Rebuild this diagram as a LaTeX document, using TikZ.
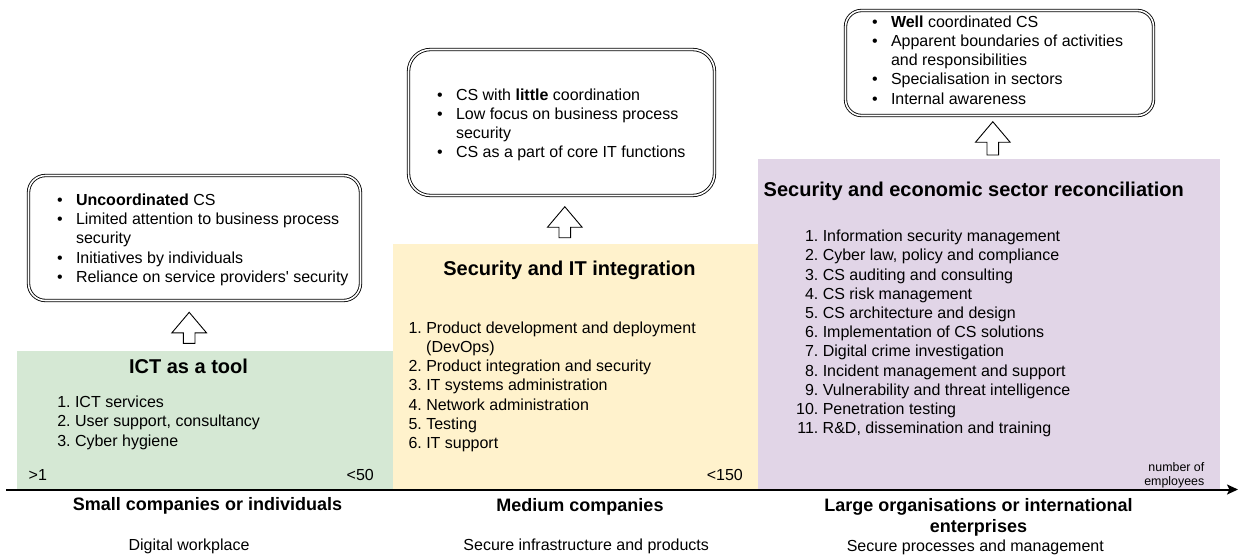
\documentclass[tikz,border=0pt]{standalone}
\usepackage{fontspec}
\setmainfont{Liberation Sans}
\newfontfamily\straightquotefont{Liberation Sans}
\usetikzlibrary{arrows.meta}
\definecolor{smallfill}{HTML}{D5E8D4}
\definecolor{medfill}{HTML}{FFF2CC}
\definecolor{largefill}{HTML}{E1D5E7}
\newcommand{\blockup}[3]{%
  \draw[line width=0.9pt, fill=white, line join=miter]
    (#1,#2) -- (#1+17.3,#2+20.5) -- (#1+5.8,#2+20.5) -- (#1+5.8,#3)
    -- (#1-5.8,#3) -- (#1-5.8,#2+20.5) -- (#1-17.3,#2+20.5) -- cycle;}
\tikzset{
  band/.style={draw=none, inner sep=0pt, outer sep=0pt, anchor=north west},
  infobox/.style={draw, line width=0.85pt, double=white, double distance=1.6pt,
    inner sep=0pt, outer sep=0pt, anchor=north west},
  bodytext/.style={inner sep=0pt, anchor=base west, font=\fontsize{16}{19.2}\selectfont},
  bandtitle/.style={inner sep=0pt, font=\bfseries\fontsize{20}{24}\selectfont},
  sizelabel/.style={inner sep=0pt, anchor=base, font=\bfseries\fontsize{18}{21.7}\selectfont},
  goal/.style={inner sep=0pt, anchor=base, font=\fontsize{16}{19.2}\selectfont},
  bound/.style={inner sep=0pt, font=\fontsize{16}{19.2}\selectfont},
}
\begin{document}
\begin{tikzpicture}[x=1pt,y=-1pt]
\useasboundingbox (0,0) rectangle (1241,557);

% coloured bands
\node[band, fill=smallfill, minimum width=376pt, minimum height=138pt] (small) at (17,351) {};
\node[band, fill=medfill, minimum width=365pt, minimum height=245pt] (medium) at (393,244) {};
\node[band, fill=largefill, minimum width=462pt, minimum height=330pt] (large) at (758,159) {};

% axis
\coordinate (axstart) at (6,489.5);
\coordinate (axend) at (1238,489.5);
\draw[line width=2pt, -{Stealth[length=11pt,width=10pt,inset=2.5pt]}] (axstart) -- (axend);

% info boxes
\node[infobox, rounded corners=17pt, minimum width=332pt, minimum height=125pt] (box1) at (28.5,175.5) {};
\node[infobox, rounded corners=22pt, minimum width=306pt, minimum height=146pt] (box2) at (408.5,49.5) {};
\node[infobox, rounded corners=16pt, minimum width=308pt, minimum height=105pt] (box3) at (845.5,10.5) {};

\node[bodytext] (list1) at (57,205.5) {\begin{tabular}[t]{@{}l@{\hspace{13.2pt}}l@{}}
\textbullet & \textbf{Uncoordinated} CS\\
\textbullet & Limited attention to business process\\
 & security\\
\textbullet & Initiatives by individuals\\
\textbullet & Reliance on service providers{\straightquotefont '} security
\end{tabular}};

\node[bodytext] (list2) at (437,100) {\begin{tabular}[t]{@{}l@{\hspace{13.2pt}}l@{}}
\textbullet & CS with \textbf{little} coordination\\
\textbullet & Low focus on business process\\
 & security\\
\textbullet & CS as a part of core IT functions
\end{tabular}};

\node[bodytext] (list3) at (872,27.3) {\begin{tabular}[t]{@{}l@{\hspace{13.2pt}}l@{}}
\textbullet & \textbf{Well} coordinated CS\\
\textbullet & Apparent boundaries of activities\\
 & and responsibilities\\
\textbullet & Specialisation in sectors\\
\textbullet & Internal awareness
\end{tabular}};

% arrows between bands and boxes
\blockup{189.2}{312.3}{343.3}
\blockup{564.8}{206.7}{237.7}
\blockup{992.8}{121.7}{155}

% band titles
\node[bandtitle, anchor=base] (t1) at (188.5,373.3) {ICT as a tool};
\node[bandtitle, anchor=base] (t2) at (569.5,275) {Security and IT integration};
\node[bandtitle, anchor=base west] (t3) at (763.5,196.7) {Security and economic sector reconciliation};

% band lists
\node[bodytext] (roles1) at (57.1,407.7) {\begin{tabular}[t]{@{}r@{\hspace{4.4pt}}l@{}}
1. & ICT services\\
2. & User support, consultancy\\
3. & Cyber hygiene
\end{tabular}};

\node[bodytext] (roles2) at (408.3,333.3) {\begin{tabular}[t]{@{}r@{\hspace{4.4pt}}l@{}}
1. & Product development and deployment\\
 & (DevOps)\\
2. & Product integration and security\\
3. & IT systems administration\\
4. & Network administration\\
5. & Testing\\
6. & IT support
\end{tabular}};

\node[bodytext] (roles3) at (795.9,241.7) {\begin{tabular}[t]{@{}r@{\hspace{4.4pt}}l@{}}
1. & Information security management\\
2. & Cyber law, policy and compliance\\
3. & CS auditing and consulting\\
4. & CS risk management\\
5. & CS architecture and design\\
6. & Implementation of CS solutions\\
7. & Digital crime investigation\\
8. & Incident management and support\\
9. & Vulnerability and threat intelligence\\
10. & Penetration testing\\
11. & R\&D, dissemination and training
\end{tabular}};

% bounds on the axis
\node[bound, anchor=base west] (b1) at (28.5,480) {>1};
\node[bound, anchor=base east] (b50) at (374,480) {<50};
\node[bound, anchor=base east] (b150) at (743,480) {<150};
\node[inner sep=0pt, anchor=base east, font=\fontsize{12.4}{14}\selectfont] (unit) at (1204.5,471)
  {\begin{tabular}[t]{@{}r@{}}number of\\employees\end{tabular}};

% size labels
\node[sizelabel] (s1) at (207.5,510.7) {Small companies or individuals};
\node[sizelabel] (s2) at (580,511) {Medium companies};
\node[sizelabel] (s3) at (978.5,511) {\begin{tabular}[t]{@{}c@{}}Large organisations or international\\enterprises\end{tabular}};

% goals
\node[goal] (g1) at (189,550) {Digital workplace};
\node[goal] (g2) at (586.2,550.7) {Secure infrastructure and products};
\node[goal] (g3) at (975.3,551) {Secure processes and management};
\end{tikzpicture}
\end{document}
